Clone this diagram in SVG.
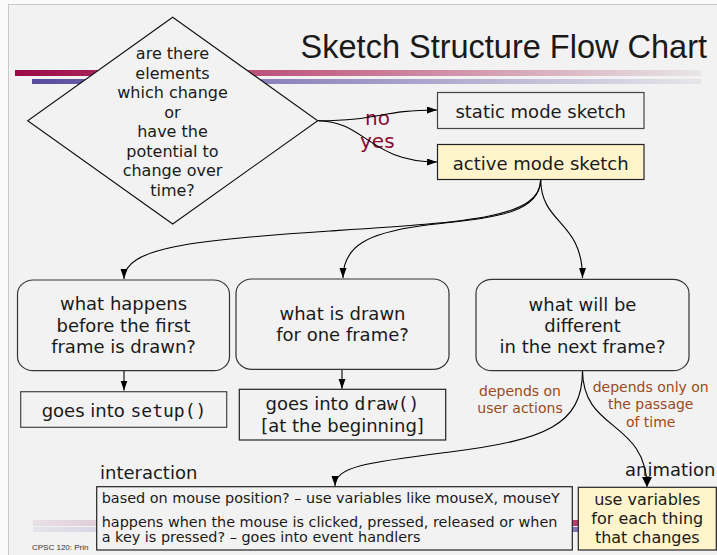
<svg xmlns="http://www.w3.org/2000/svg" width="717" height="555" viewBox="0 0 717 555">
  <defs>
    <linearGradient id="barRed" x1="0" y1="0" x2="1" y2="0">
      <stop offset="0" stop-color="#9c0a46"/>
      <stop offset="0.45" stop-color="#c4678a"/>
      <stop offset="1" stop-color="#e8e6e7"/>
    </linearGradient>
    <linearGradient id="barBlue" x1="0" y1="0" x2="1" y2="0">
      <stop offset="0" stop-color="#5a4c9e"/>
      <stop offset="0.45" stop-color="#9a90c2"/>
      <stop offset="1" stop-color="#e6e6ea"/>
    </linearGradient>
    <linearGradient id="footRed" x1="0" y1="0" x2="1" y2="0">
      <stop offset="0" stop-color="#e8e2e5"/>
      <stop offset="1" stop-color="#a81a55"/>
    </linearGradient>
    <linearGradient id="footBlue" x1="0" y1="0" x2="1" y2="0">
      <stop offset="0" stop-color="#e4e4ea"/>
      <stop offset="1" stop-color="#6a5cb0"/>
    </linearGradient>
    <marker id="arrow" markerUnits="userSpaceOnUse" markerWidth="11" markerHeight="8" refX="10" refY="3.5" orient="auto">
      <path d="M0,0 L10,3.5 L0,7 z" fill="#000"/>
    </marker>
  </defs>
  <style>
    text { font-family: "DejaVu Sans", "Noto Sans", sans-serif; fill: #1a1a1a; }
    .title { font-family: "Liberation Sans", Arial, sans-serif; font-size: 32.5px; }
    .q { font-size: 16px; text-anchor: middle; }
    .lbl { font-size: 18px; text-anchor: middle; }
    .yn { font-size: 20px; fill: #8e0a32; }
    .dep { font-size: 14px; fill: #9a4a1c; text-anchor: middle; }
    .small { font-size: 14.4px; }
    .cap { font-size: 18px; }
    .foot { font-family: "Liberation Sans", Arial, sans-serif; font-size: 8px; fill: #333; }
    .mono { font-family: "DejaVu Sans Mono", "Liberation Mono", monospace; }
    .box { fill: #f2f2f2; stroke: #333; stroke-width: 1.2; }
    .hi { fill: #fff4cc; stroke: #222; stroke-width: 1.2; }
    .edge { fill: none; stroke: #000; stroke-width: 1.1; marker-end: url(#arrow); }
  </style>

  <!-- slide backdrop -->
  <rect x="0" y="0" width="717" height="555" fill="#fafafa"/>
  <rect x="8.5" y="4.5" width="720" height="560" fill="#f2f2f2" stroke="#c8c8c8" stroke-width="1"/>

  <!-- heading rules -->
  <rect x="15" y="70" width="686" height="6" fill="url(#barRed)"/>
  <rect x="32" y="79" width="669" height="5" fill="url(#barBlue)"/>
  <!-- footer rules -->
  <rect x="33" y="520" width="667" height="6" fill="url(#footRed)"/>
  <rect x="33" y="527" width="667" height="5" fill="url(#footBlue)"/>
  <text class="foot" x="32" y="550">CPSC 120: Prin</text>

  <text class="title" x="707" y="58" text-anchor="end">Sketch Structure Flow Chart</text>

  <g id="edge-labels">
    <text class="yn" x="365" y="125">no</text>
    <text class="yn" x="360" y="148">yes</text>
  </g>

  <!-- connectors -->
  <g id="connectors">
    <path class="edge" d="M318,120.7 C380,120.7 380,110 437,110"/>
    <path class="edge" d="M318,120.7 C365,121 370,162 437,162"/>
    <path class="edge" d="M540.7,179.5 C540.7,218 470,222 330,231 C190,240 124,248 124,279"/>
    <path class="edge" d="M540.7,179.5 C540,218 480,218 420,226 C370,233 343,245 343,278"/>
    <path class="edge" d="M540.7,179.5 C541,225 582.5,220 582.5,278"/>
    <path class="edge" d="M124,370.7 L124,390.5"/>
    <path class="edge" d="M342,369.3 L342,388.8"/>
    <path class="edge" d="M582.5,370.7 C582.5,425 545,440 450,452 C370,462 335,466 335,486"/>
    <path class="edge" d="M582.5,370.7 C583,432 646,420 647,486.5"/>
  </g>

  <!-- decision -->
  <g id="decision">
    <polygon points="172.7,17.3 317.7,120.7 172.7,224 27.7,120.7" fill="#f2f2f2" stroke="#111" stroke-width="1.1"/>
    <text class="q" x="172.5" y="59">are there</text>
    <text class="q" x="172.5" y="79">elements</text>
    <text class="q" x="172.5" y="98">which change</text>
    <text class="q" x="172.5" y="118">or</text>
    <text class="q" x="172.5" y="137">have the</text>
    <text class="q" x="172.5" y="157">potential to</text>
    <text class="q" x="172.5" y="176">change over</text>
    <text class="q" x="172.5" y="196">time?</text>
  </g>

  <g id="static-mode">
    <rect x="437.5" y="92.5" width="206.5" height="36" fill="#f2f2f2" stroke="#444" stroke-width="1.2"/>
    <text class="lbl" x="540.7" y="118">static mode sketch</text>
  </g>

  <g id="active-mode">
    <rect class="hi" x="437.5" y="144.5" width="206.5" height="35"/>
    <text class="lbl" x="540.7" y="169.5">active mode sketch</text>
  </g>

  <g id="before-first-frame">
    <rect class="box" x="17.5" y="280" width="212" height="90.7" rx="16" ry="14"/>
    <text class="lbl" x="123.5" y="310">what happens</text>
    <text class="lbl" x="123.5" y="331.5">before the first</text>
    <text class="lbl" x="123.5" y="352.5">frame is drawn?</text>
  </g>

  <g id="one-frame">
    <rect class="box" x="236" y="279" width="213" height="90.3" rx="16" ry="14"/>
    <text class="lbl" x="342.5" y="320">what is drawn</text>
    <text class="lbl" x="342.5" y="341">for one frame?</text>
  </g>

  <g id="next-frame">
    <rect class="box" x="476" y="279.3" width="213" height="91.4" rx="16" ry="14"/>
    <text class="lbl" x="582.5" y="310.7">what will be</text>
    <text class="lbl" x="582.5" y="332.3">different</text>
    <text class="lbl" x="582.5" y="353.3">in the next frame?</text>
  </g>

  <g id="setup">
    <rect x="20.7" y="391.7" width="206" height="35.6" fill="#f2f2f2" stroke="#444" stroke-width="1.2"/>
    <text class="lbl" x="124" y="417.3">goes into <tspan class="mono">setup()</tspan></text>
  </g>

  <g id="draw">
    <rect x="239.3" y="389.3" width="206.4" height="50.7" fill="#f2f2f2" stroke="#222" stroke-width="1.2"/>
    <text class="lbl" x="342.5" y="410">goes into <tspan class="mono">draw()</tspan></text>
    <text class="lbl" x="342.5" y="431.7">[at the beginning]</text>
  </g>

  <g id="dependency-labels">
    <text class="dep" x="520" y="396">depends on</text>
    <text class="dep" x="520" y="413.3">user actions</text>
    <text class="dep" x="650.7" y="392.3">depends only on</text>
    <text class="dep" x="650.7" y="409.3">the passage</text>
    <text class="dep" x="650.7" y="426.7">of time</text>
  </g>

  <g id="interaction">
    <text class="cap" x="100" y="479.3">interaction</text>
    <rect x="96.7" y="486.7" width="475.6" height="63.3" fill="#f2f2f2" stroke="#222" stroke-width="1.2"/>
    <text class="small" x="101.7" y="503.3">based on mouse position? – use variables like mouseX, mouseY</text>
    <text class="small" x="101.7" y="527.3">happens when the mouse is clicked, pressed, released or when</text>
    <text class="small" x="101.7" y="541.7">a key is pressed? – goes into event handlers</text>
  </g>

  <g id="animation">
    <text class="cap" x="625" y="476">animation</text>
    <rect class="hi" x="578.3" y="487.3" width="138" height="62.7" stroke="#555"/>
    <text class="q" x="647.3" y="505">use variables</text>
    <text class="q" x="647.3" y="524">for each thing</text>
    <text class="q" x="647.3" y="542.7">that changes</text>
  </g>

  <!-- arrow tip drawn over the caption above the yellow box -->
  <path d="M642,477 L647,487 L652,477 z" fill="#000"/>
</svg>
